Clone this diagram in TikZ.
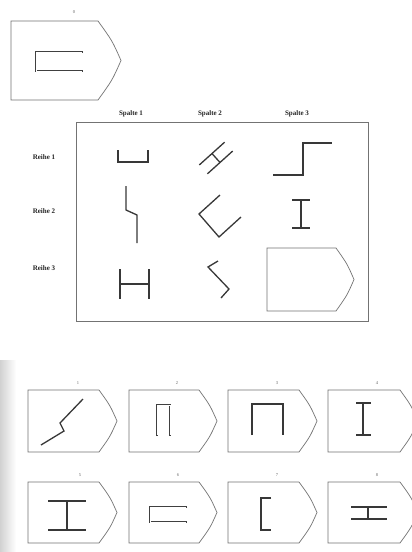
\documentclass[tikz,border=0pt]{standalone}
\usepackage{fontspec}
\setmainfont{Liberation Serif}
\newcommand\pentbox[5]{%
  \draw[frame] (#1,#2) -- (#3,#2)
    .. controls ({#3+0.62*(#4-#3)},{#2+0.25*(#5-#2)}) .. (#4,{0.5*(#2+#5)})
    .. controls ({#3+0.62*(#4-#3)},{#5-0.25*(#5-#2)}) .. (#3,#5)
    -- (#1,#5) -- cycle;}
\begin{document}
\begin{tikzpicture}[x=1pt,y=-1pt,
  fig/.style={line width=1.3pt, draw=black!78, line join=miter},
  dout/.style={line width=2.9pt, draw=black!75, line join=miter},
  din/.style={line width=0.8pt, draw=white, line join=miter, shorten >=1pt, shorten <=1pt},
  frame/.style={line width=0.7pt, draw=black!55},
  lbl/.style={font=\fontsize{7}{8}\selectfont\bfseries, text=black!85, inner sep=0},
  num/.style={font=\fontsize{4.5}{5}\selectfont, text=black!60, inner sep=0}]
\useasboundingbox (0,0) rectangle (412,552);
\fill[white] (0,0) rectangle (412,552);
\shade[left color=black!18, right color=white] (0,360) rectangle (16,552);

% ---- top example 0
\node[num] (n0) at (74,12) {0};
\pentbox{11}{21}{98}{121}{100}
\draw[dout] (83,52) -- (36,52) -- (36,71) -- (83,71);
\draw[din] (83,52) -- (36,52) -- (36,71) -- (83,71);

% ---- matrix
\draw[frame] (76,122) rectangle (368,321);
\node[lbl] (s1) at (131,114) {Spalte 1};
\node[lbl] (s2) at (210,114) {Spalte 2};
\node[lbl] (s3) at (297,114) {Spalte 3};
\node[lbl] (r1) at (44,157) {Reihe 1};
\node[lbl] (r2) at (44,211) {Reihe 2};
\node[lbl] (r3) at (44,268) {Reihe 3};

% row 1
\draw[fig] (118,150) -- (118,162) -- (148,162) -- (148,150);
\begin{scope}[shift={(216,158)}, rotate=42]
  \draw[fig] (-17,-6) -- (17,-6);
  \draw[fig] (-17,6) -- (17,6);
  \draw[fig] (0,-6) -- (0,6);
\end{scope}
\draw[fig] (273,175) -- (303,175) -- (303,143) -- (332,143);

% row 2
\draw[fig] (126,186) -- (126,210) -- (137,215) -- (137,243);
\draw[fig] (220,195) -- (199,214) -- (219,237) -- (241,217);
\draw[fig] (292,200) -- (310,200);
\draw[fig] (301,200) -- (301,228);
\draw[fig] (292,228) -- (310,228);

% row 3
\draw[fig] (120,269) -- (120,299);
\draw[fig] (149,269) -- (149,299);
\draw[fig] (120,284) -- (149,284);
\draw[fig] (218,261) -- (208,267) -- (229,289) -- (221,298);
\pentbox{267}{248}{336}{354}{311}

% ---- answer options, row 1
\node[num] (n1) at (78,383) {1};
\node[num] (n2) at (177,383) {2};
\node[num] (n3) at (277,383) {3};
\node[num] (n4) at (377,383) {4};
\pentbox{28}{390}{99}{117}{452}
\pentbox{129}{390}{199}{217}{452}
\pentbox{228}{390}{299}{317}{452}
\pentbox{328}{390}{400}{418}{452}
\draw[fig] (41,445) -- (64,431) -- (60,423) -- (83,399);
\draw[dout] (157,436) -- (157,405) -- (170,405) -- (170,436);
\draw[din] (157,436) -- (157,405) -- (170,405) -- (170,436);
\draw[fig] (252,435) -- (252,404) -- (283,404) -- (283,435);
\draw[fig] (356,403) -- (371,403);
\draw[fig] (363,403) -- (363,435);
\draw[fig] (356,435) -- (371,435);

% ---- answer options, row 2
\node[num] (n5) at (80,475) {5};
\node[num] (n6) at (178,475) {6};
\node[num] (n7) at (277,475) {7};
\node[num] (n8) at (377,475) {8};
\pentbox{28}{482}{99}{117}{543}
\pentbox{129}{482}{199}{217}{543}
\pentbox{228}{482}{299}{317}{543}
\pentbox{328}{482}{400}{418}{543}
\draw[fig] (48,501) -- (86,501);
\draw[fig] (67,501) -- (67,530);
\draw[fig] (48,530) -- (86,530);
\draw[dout] (187,507) -- (150,507) -- (150,522) -- (187,522);
\draw[din] (187,507) -- (150,507) -- (150,522) -- (187,522);
\draw[fig] (271,498) -- (261,498) -- (261,530) -- (271,530);
\draw[fig] (351,507) -- (387,507);
\draw[fig] (351,519) -- (387,519);
\draw[fig] (368,507) -- (368,519);
\end{tikzpicture}
\end{document}
